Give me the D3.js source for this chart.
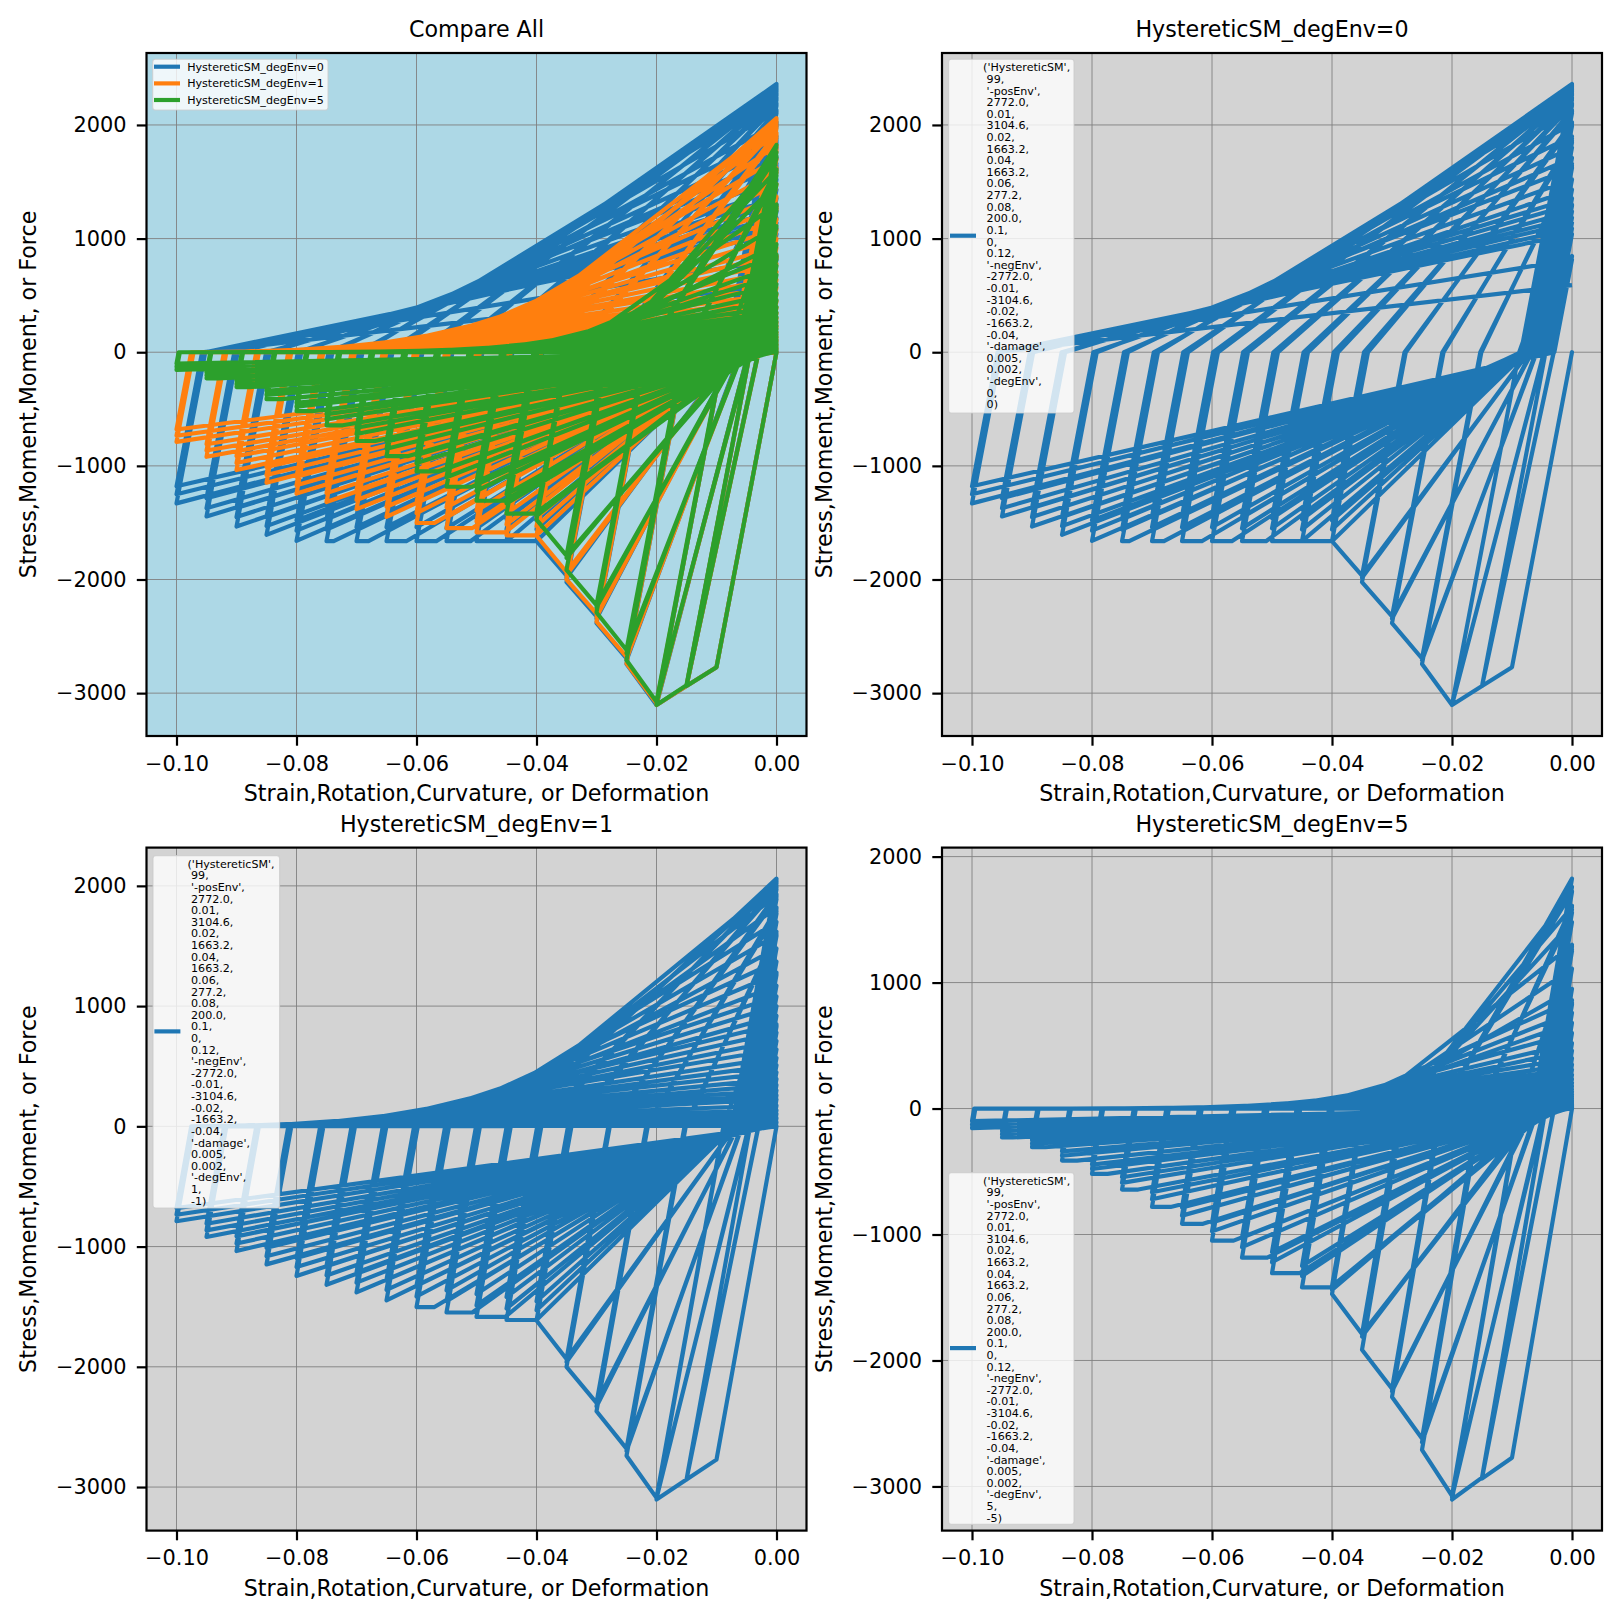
<!DOCTYPE html>
<html><head><meta charset="utf-8">
<script src="https://cdn.jsdelivr.net/npm/d3@7"></script>
<style>html,body{margin:0;background:#fff}svg{display:block}text{font-family:"DejaVu Sans";fill:#000;white-space:pre}</style>
</head><body><div id="c"></div>
<script>
const strain0=[0,-.01,0,
-.01,-.015,-.0044,0,-.00306,-.015,-.0044,0,-.00305,-.015,-.0044,0,
-.00304,-.015,-.02,-.0088,0,-.00468,-.02,-.0088,0,-.00466,-.02,-.0088,0,
-.00465,-.02,-.025,-.0151,0,-.00599,-.025,-.01522,0,-.00592,-.025,-.01528,0,
-.00588,-.025,-.03,-.0214,0,-.00678,-.03,-.02154,0,-.00671,-.03,-.02161,0,
-.00666,-.03,-.035,-.0277,0,-.00731,-.035,-.02784,0,-.00723,-.035,-.02791,0,
-.00718,-.035,-.04,-.034,0,-.00768,-.04,-.03437,0,-.00763,-.04,-.03466,0,
-.00759,-.04,-.045,-.039,0,-.0079,-.045,-.03937,0,-.00786,-.045,-.0397,0,
-.00783,-.045,-.05,-.044,0,-.00808,-.05,-.04441,0,-.00804,-.05,-.04473,0,
-.00801,-.051,-.055,-.049,0,-.00823,-.055,-.04941,0,-.00819,-.055,-.04977,0,
-.00815,-.0567,-.06,-.054,0,-.00835,-.06,-.05444,0,-.00832,-.06,-.05481,0,
-.00828,-.0617,-.065,-.059,0,-.00846,-.065,-.05944,0,-.00842,-.065,-.05981,0,
-.00839,-.068,-.07,-.064,0,-.00851,-.07,-.06444,0,-.00833,-.07,-.06479,0,
-.00819,-.0738,-.075,-.069,0,-.00804,-.075,-.06937,0,-.00765,-.075,-.0697,0,
-.00725,-.08,-.07401,0,-.00685,-.08,-.07434,0,-.00649,-.08,-.07466,0,
-.00617,-.085,-.0792,0,-.00584,-.085,-.07948,0,-.00548,-.085,-.07977,0,
-.00516,-.09,-.08447,0,-.00489,-.09,-.08477,0,-.00469,-.09,-.08506,0,
-.00447,-.095,-.08979,0,-.00427,-.095,-.09005,0,-.00411,-.095,-.09036,0,
-.00393,-.1,-.0952,0,-.00375,-.1,-.09549,0,-.00294,-.1,-.09574,0];
const stress0=[0,-2772,0,
-2772,-2938,0,847,0,-2938,0,845,0,-2938,0,843,
0,-2938,-3104,0,1297,0,-3104,0,1292,0,-3104,0,1288,
0,-3104,-2744,0,1660,0,-2712,0,1640,0,-2695,0,1630,
0,-2695,-2384,0,1880,0,-2345,0,1860,0,-2325,0,1845,
0,-2325,-2023,0,2025,0,-1985,0,2005,0,-1965,0,1990,
0,-1965,-1663,0,2130,0,-1560,0,2115,0,-1480,0,2105,
0,-1663,-1663,0,2190,0,-1560,0,2180,0,-1470,0,2170,
0,-1663,-1663,0,2240,0,-1550,0,2230,0,-1460,0,2220,
0,-1663,-1663,0,2280,0,-1550,0,2270,0,-1450,0,2260,
0,-1663,-1663,0,2315,0,-1540,0,2305,0,-1440,0,2295,
0,-1663,-1663,0,2345,0,-1540,0,2335,0,-1440,0,2325,
0,-1663,-1663,0,2360,0,-1540,0,2310,0,-1445,0,2270,
0,-1663,-1663,0,2230,0,-1560,0,2120,0,-1470,0,2010,
0,-1660,0,1900,0,-1570,0,1800,0,-1480,0,1710,
0,-1607,0,1620,0,-1530,0,1520,0,-1450,0,1430,
0,-1534,0,1355,0,-1450,0,1300,0,-1370,0,1240,
0,-1445,0,1184,0,-1372,0,1140,0,-1285,0,1090,
0,-1330,0,1040,0,-1250,0,815,0,-1180,0,590];
const strain1=[0,-.01,0,
-.01,-.015,-.0044,0,-.00303,-.015,-.0044,0,-.00301,-.015,-.0044,0,
-.00299,-.015,-.02,-.0088,0,-.00462,-.02,-.00883,0,-.00458,-.02,-.00885,0,
-.00455,-.02,-.025,-.01512,0,-.00584,-.025,-.01526,0,-.00577,-.025,-.01533,0,
-.00572,-.025,-.03,-.02145,0,-.00653,-.03,-.02159,0,-.00646,-.03,-.0217,0,
-.00639,-.03,-.035,-.02778,0,-.00696,-.035,-.02793,0,-.00689,-.035,-.02802,0,
-.00682,-.035,-.04,-.03417,0,-.00722,-.04,-.03448,0,-.00716,-.04,-.03475,0,
-.00711,-.04,-.045,-.03919,0,-.00736,-.045,-.03953,0,-.00732,-.045,-.03988,0,
-.00729,-.0452,-.05,-.04428,0,-.00743,-.05,-.04462,0,-.0074,-.05,-.04497,0,
-.00734,-.0507,-.055,-.04942,0,-.00729,-.055,-.04975,0,-.00693,-.055,-.05008,0,
-.00657,-.057,-.06,-.05458,0,-.00613,-.06,-.0549,0,-.00574,-.06,-.05522,0,
-.00534,-.065,-.05978,0,-.00494,-.065,-.06009,0,-.00458,-.065,-.0604,0,
-.00422,-.07,-.06502,0,-.0039,-.07,-.06531,0,-.00361,-.07,-.06562,0,
-.00332,-.075,-.07025,0,-.00307,-.075,-.07053,0,-.00281,-.075,-.07082,0,
-.00256,-.08,-.07551,0,-.00231,-.08,-.07578,0,-.00206,-.08,-.07605,0,
-.00184,-.085,-.08086,0,-.00162,-.085,-.0811,0,-.00142,-.085,-.08136,0,
-.00123,-.09,-.08626,0,-.00105,-.09,-.08648,0,-.00088,-.09,-.0867,0,
-.00072,-.095,-.09168,0,-.00063,-.095,-.09188,0,-.00049,-.095,-.09208,0,
-.00038,-.1,-.09715,0,-.00025,-.1,-.09735,0,-.00013,-.1,-.09755,0];
const stress1=[0,-2772,0,
-2772,-2938,0,840,0,-2938,0,835,0,-2938,0,830,
0,-2938,-3104,0,1280,0,-3095,0,1270,0,-3090,0,1260,
0,-3090,-2740,0,1620,0,-2700,0,1600,0,-2680,0,1585,
0,-2680,-2370,0,1810,0,-2330,0,1790,0,-2300,0,1770,
0,-2300,-2000,0,1930,0,-1960,0,1910,0,-1935,0,1890,
0,-1935,-1615,0,2000,0,-1530,0,1985,0,-1455,0,1970,
0,-1611,-1611,0,2040,0,-1515,0,2030,0,-1420,0,2020,
0,-1585,-1585,0,2060,0,-1490,0,2050,0,-1395,0,2035,
0,-1548,-1548,0,2020,0,-1455,0,1920,0,-1365,0,1820,
0,-1503,-1503,0,1700,0,-1415,0,1590,0,-1325,0,1480,
0,-1448,0,1370,0,-1360,0,1270,0,-1275,0,1170,
0,-1381,0,1080,0,-1300,0,1000,0,-1215,0,920,
0,-1318,0,850,0,-1240,0,780,0,-1160,0,710,
0,-1244,0,640,0,-1170,0,570,0,-1095,0,510,
0,-1148,0,450,0,-1080,0,395,0,-1010,0,345,
0,-1037,0,300,0,-975,0,260,0,-915,0,225,
0,-920,0,175,0,-865,0,135,0,-810,0,105,
0,-789,0,70,0,-735,0,35,0,-680,0,5];
const strain2=[0,-.01,0,
-.01,-.015,-.0044,0,-.00303,-.015,-.00441,0,-.00299,-.015,-.00443,0,
-.00298,-.015,-.02,-.0088,0,-.00464,-.02,-.00887,0,-.00456,-.02,-.00891,0,
-.00451,-.02,-.025,-.01522,0,-.00581,-.025,-.01544,0,-.0057,-.025,-.01555,0,
-.00561,-.025,-.03,-.02174,0,-.00658,-.03,-.0219,0,-.00635,-.03,-.02197,0,
-.0062,-.03,-.035,-.02809,0,-.00622,-.035,-.02847,0,-.00577,-.035,-.02854,0,
-.00534,-.035,-.04,-.03469,0,-.00469,-.04,-.03481,0,-.004,-.04,-.03491,0,
-.00343,-.04,-.045,-.03988,0,-.0031,-.045,-.0402,0,-.00274,-.045,-.04049,0,
-.00245,-.0454,-.05,-.04528,0,-.00216,-.05,-.0456,0,-.00188,-.05,-.04589,0,
-.00166,-.0508,-.055,-.05073,0,-.00144,-.055,-.05103,0,-.00126,-.055,-.0513,0,
-.00112,-.0564,-.06,-.05622,0,-.00097,-.06,-.05648,0,-.00085,-.06,-.05674,0,
-.00074,-.0615,-.065,-.0617,0,-.00065,-.065,-.06193,0,-.00056,-.065,-.06217,0,
-.00049,-.0669,-.07,-.06718,0,-.00041,-.07,-.0674,0,-.00036,-.07,-.0676,0,
-.00031,-.0723,-.075,-.07268,0,-.00025,-.075,-.07287,0,-.00022,-.075,-.07303,0,
-.00018,-.0774,-.08,-.07813,0,-.00015,-.08,-.07827,0,-.00013,-.08,-.07839,0,
-.0001,-.0825,-.085,-.08351,0,-.00008,-.085,-.08365,0,-.00006,-.085,-.08377,0,
-.00005,-.0878,-.09,-.08889,0,-.00004,-.09,-.08899,0,-.00003,-.09,-.0891,0,
-.00003,-.0932,-.095,-.09417,0,-.00002,-.095,-.09426,0,-.00001,-.095,-.09435,0,
-.00001,-.1,-.09944,0,0,-.1,-.09953,0,0,-.1,-.09964,0];
const stress2=[0,-2772,0,
-2772,-2938,0,840,0,-2935,0,830,0,-2930,0,825,
0,-2930,-3104,0,1285,0,-3085,0,1265,0,-3075,0,1250,
0,-3075,-2710,0,1610,0,-2650,0,1580,0,-2620,0,1555,
0,-2620,-2290,0,1825,0,-2245,0,1760,0,-2225,0,1720,
0,-2225,-1915,0,1725,0,-1810,0,1600,0,-1790,0,1480,
0,-1790,-1473,0,1300,0,-1440,0,1110,0,-1410,0,950,
0,-1420,-1420,0,860,0,-1330,0,760,0,-1250,0,680,
0,-1307,-1307,0,600,0,-1220,0,520,0,-1140,0,460,
0,-1184,-1184,0,400,0,-1100,0,350,0,-1025,0,310,
0,-1049,-1049,0,270,0,-975,0,235,0,-905,0,205,
0,-915,-915,0,180,0,-850,0,155,0,-785,0,135,
0,-781,-781,0,115,0,-720,0,100,0,-665,0,85,
0,-643,-643,0,70,0,-590,0,60,0,-545,0,50,
0,-519,-519,0,42,0,-480,0,35,0,-445,0,28,
0,-413,-413,0,22,0,-375,0,18,0,-340,0,14,
0,-307,-307,0,11,0,-280,0,9,0,-250,0,7,
0,-230,-230,0,5,0,-205,0,4,0,-180,0,3,
0,-155,0,2,0,-130,0,1,0,-100,0,0];
const seriesNames=["HystereticSM_degEnv=0","HystereticSM_degEnv=1","HystereticSM_degEnv=5"];
const seriesColors=["#1f77b4","#ff7f0e","#2ca02c"];
const xTicks=[-0.1,-0.08,-0.06,-0.04,-0.02,0];
const yTicks=[-3000,-2000,-1000,0,1000,2000];
const titles=["Compare All","HystereticSM_degEnv=0","HystereticSM_degEnv=1","HystereticSM_degEnv=5"];
const xLabel="Strain,Rotation,Curvature, or Deformation";
const yLabel="Stress,Moment,Moment, or Force";
const paramLines=["('HystereticSM',"," 99,"," '-posEnv',"," 2772.0,"," 0.01,"," 3104.6,"," 0.02,"," 1663.2,"," 0.04,"," 1663.2,"," 0.06,"," 277.2,"," 0.08,"," 200.0,"," 0.1,"," 0,"," 0.12,"," '-negEnv',"," -2772.0,"," -0.01,"," -3104.6,"," -0.02,"," -1663.2,"," -0.04,"," '-damage',"," 0.005,"," 0.002,"," '-degEnv',"];
const degLines=[[" 0,"," 0)"],[" 1,"," -1)"],[" 5,"," -5)"]];

const W=1622,H=1622;
const svg=d3.select("#c").append("svg").attr("width",W).attr("height",H);
const panels=[
 {l:146.5,t:53,bg:"#add8e6",sets:[0,1,2],title:0},
 {l:942,t:53,bg:"#d3d3d3",sets:[0],title:1,box:[948.6,59.2,125.4,353.8],deg:0},
 {l:146.5,t:847.6,bg:"#d3d3d3",sets:[1],title:2,box:[153,855.6,126.6,352.4],deg:1},
 {l:942,t:847.6,bg:"#d3d3d3",sets:[2],title:3,box:[948.6,1172.6,125.4,351.8],deg:2}];
const pw=660,ph=683;
const xs=[strain0,strain1,strain2],ys=[stress0,stress1,stress2];
const minus=s=>String(s).replace("-","\u2212");
panels.forEach((p,pi)=>{
 const g=svg.append("g").attr("transform",`translate(${p.l},${p.t})`);
 const allX=p.sets.flatMap(i=>xs[i]),allY=p.sets.flatMap(i=>ys[i]);
 const [x0,x1]=d3.extent(allX),[y0,y1]=d3.extent(allY);
 const mx=(x1-x0)*.05,my=(y1-y0)*.05;
 const x=d3.scaleLinear().domain([x0-mx,x1+mx]).range([0,pw]);
 const y=d3.scaleLinear().domain([y0-my,y1+my]).range([ph,0]);
 g.append("rect").attr("width",pw).attr("height",ph).attr("fill",p.bg);
 g.selectAll(".gx").data(xTicks).join("line").attr("x1",d=>x(d)).attr("x2",d=>x(d)).attr("y1",0).attr("y2",ph).attr("stroke","#808080").attr("stroke-width",.9);
 g.selectAll(".gy").data(yTicks).join("line").attr("y1",d=>y(d)).attr("y2",d=>y(d)).attr("x1",0).attr("x2",pw).attr("stroke","#808080").attr("stroke-width",.9);
 const cp="cp"+pi;
 g.append("clipPath").attr("id",cp).append("rect").attr("width",pw).attr("height",ph);
 p.sets.forEach(i=>{
  const pts=xs[i].map((v,j)=>[v,ys[i][j]]);
  g.append("path").attr("clip-path",`url(#${cp})`).attr("d",d3.line().x(d=>x(d[0])).y(d=>y(d[1]))(pts))
   .attr("fill","none").attr("stroke",pi===0?seriesColors[i]:seriesColors[0]).attr("stroke-width",4.17).attr("stroke-linejoin","round");
 });
 const ax=g.append("g").attr("transform",`translate(0,${ph})`).call(d3.axisBottom(x).tickValues(xTicks).tickSize(9.7).tickPadding(10).tickFormat(d=>minus(d3.format(".2f")(d))));
 const ay=g.append("g").call(d3.axisLeft(y).tickValues(yTicks).tickSize(9.7).tickPadding(10.2).tickFormat(d=>minus(d)));
 [ax,ay].forEach(a=>{a.select(".domain").remove();a.selectAll("line").attr("stroke","#000").attr("stroke-width",2.2);a.selectAll("text").style("font-size","20.85px").style("font-family",'"DejaVu Sans"').attr("fill","#000");});
 g.append("rect").attr("width",pw).attr("height",ph).attr("fill","none").attr("stroke","#000").attr("stroke-width",2.2);
 g.append("text").attr("x",pw/2).attr("y",-24).attr("dy",".36em").attr("text-anchor","middle").style("font-size","22.2px").text(titles[p.title]);
 g.append("text").attr("x",pw/2).attr("y",ph+57.5).attr("dy",".36em").attr("text-anchor","middle").style("font-size","22.2px").text(xLabel);
 g.append("text").attr("transform",`translate(-118.5,${ph/2}) rotate(-90)`).attr("dy",".36em").attr("text-anchor","middle").style("font-size","22.2px").text(yLabel);
});
function legendBox(b){svg.append("rect").attr("x",b[0]).attr("y",b[1]).attr("width",b[2]).attr("height",b[3]).attr("rx",2.8).attr("fill","#fff").attr("fill-opacity",.8).attr("stroke","#ccc").attr("stroke-opacity",.8).attr("stroke-width",1.1);}
legendBox([152.7,59.3,175.3,50.7]);
seriesNames.forEach((n,i)=>{
 const yy=[66.7,83.4,100][i];
 svg.append("line").attr("x1",154).attr("x2",180).attr("y1",yy).attr("y2",yy).attr("stroke",seriesColors[i]).attr("stroke-width",4.17);
 svg.append("text").attr("x",187.2).attr("y",yy).attr("dy",".36em").style("font-size","11.1px").text(n);
});
panels.slice(1).forEach(p=>{
 legendBox(p.box);
 const [bx,by,,bh]=p.box;
 const yy=by+bh/2-.4;
 svg.append("line").attr("x1",bx+1.4).attr("x2",bx+27.4).attr("y1",yy).attr("y2",yy).attr("stroke",seriesColors[0]).attr("stroke-width",4.17);
 paramLines.concat(degLines[p.deg]).forEach((t,i)=>{
  svg.append("text").attr("x",bx+34.5).attr("y",by+8.1+i*11.62).attr("dy",".36em").style("font-size","11.1px").text(t);
 });
});
</script></body></html>
